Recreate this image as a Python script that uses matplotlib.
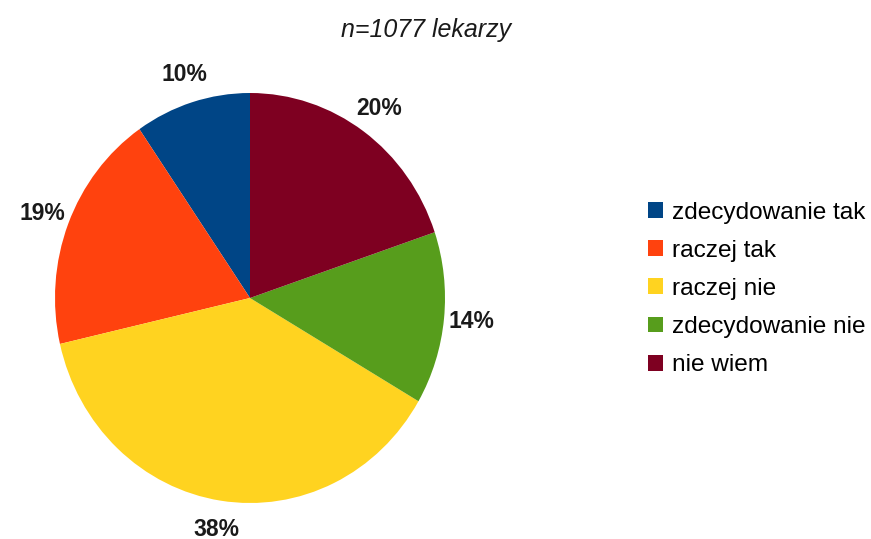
import matplotlib.pyplot as plt

categories = ["zdecydowanie tak", "raczej tak", "raczej nie", "zdecydowanie nie", "nie wiem"]
shares = [9.6, 19.0, 38.0, 13.6, 19.8]  # percent of answers
colors = ["#004586", "#ff420e", "#ffd320", "#579d1c", "#7e0021"]
title = "n=1077 lekarzy"

plt.rcParams['font.family'] = ['Liberation Sans', 'DejaVu Sans']

fig = plt.figure(figsize=(8.71, 5.39), dpi=100)
# pie area in pixels: x 55..445, y 93..503 (slightly taller than wide)
ax = fig.add_axes([55/871, 36/539, 390/871, 410/539])

wedges, texts = ax.pie(shares, colors=colors, startangle=90, counterclock=True,
                       labels=[f"{v:.0f}%" for v in shares], labeldistance=1.14,
                       wedgeprops=dict(linewidth=0),
                       textprops=dict(fontsize=16.5, fontweight='bold', color='#1a1a1a'))
ax.set_aspect('auto')
ax.set_xlim(-1, 1)
ax.set_ylim(-1, 1)
for t in texts:
    t.set_horizontalalignment('center')
    t.set_verticalalignment('center')
    t.set_clip_on(False)

fig.text(426/871, 1 - 30/539, title, ha='center', va='center', fontsize=18,
         style='italic', color='#1a1a1a')

fig.legend(wedges, categories, loc='center left', bbox_to_anchor=(648/871, 1 - 289/539),
           frameon=False, fontsize=17.6, handlelength=0.62, handleheight=0.62,
           handletextpad=0.36, labelspacing=0.66, borderpad=0, borderaxespad=0)

fig.savefig("out.png", dpi=100)
